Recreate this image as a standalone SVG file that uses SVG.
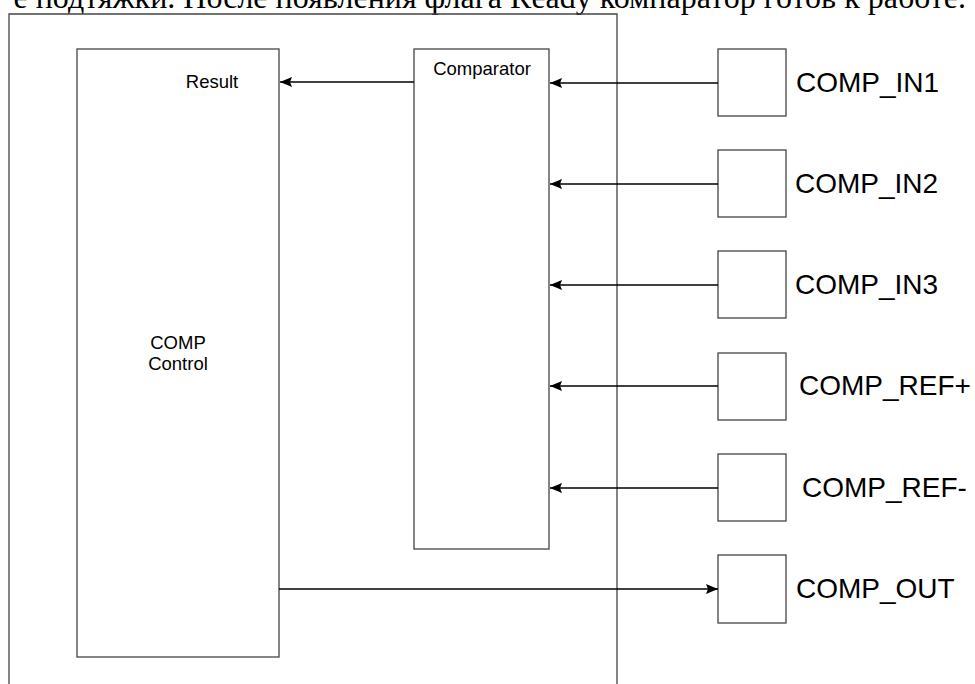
<svg xmlns="http://www.w3.org/2000/svg" width="975" height="684" viewBox="0 0 975 684">
<defs>
<marker id="ah" viewBox="0 0 12 10" refX="12" refY="5" markerWidth="12" markerHeight="10" markerUnits="userSpaceOnUse" orient="auto">
<path d="M0,0 L12,5 L0,10 L2,5 z" fill="#000"/>
</marker>
<style>
.box{fill:#fff;stroke:#444;stroke-width:1.3}
.arr{stroke:#000;stroke-width:1.7;fill:none;marker-end:url(#ah)}
.sm{font-family:"Liberation Sans",Arial,sans-serif;font-size:18.5px;fill:#000;text-anchor:middle}
.lb{font-family:"Liberation Sans",Arial,sans-serif;font-size:28px;fill:#000}
.top{font-family:"Liberation Serif","Times New Roman",serif;font-size:32px;fill:#000;text-anchor:end}
</style>
</defs>
<rect width="975" height="684" fill="#fff"/>
<text class="top" x="966" y="8">е подтяжки. После появления флага Ready компаратор готов к работе.</text>
<g id="outer"><path class="box" style="fill:none" d="M9,690 V14 H617 V690"/></g>
<g id="control"><rect class="box" x="77" y="49" width="202" height="608"/>
<text class="sm" x="212" y="88">Result</text>
<text class="sm" x="178" y="349">COMP</text>
<text class="sm" x="178" y="370">Control</text></g>
<g id="comparator"><rect class="box" x="414" y="49" width="135" height="500"/>
<text class="sm" x="482" y="75">Comparator</text></g>
<g id="in1"><rect class="box" x="718" y="49" width="68" height="67"/><text class="lb" x="796" y="92">COMP_IN1</text></g>
<g id="in2"><rect class="box" x="718" y="150" width="68" height="67"/><text class="lb" x="795" y="193">COMP_IN2</text></g>
<g id="in3"><rect class="box" x="718" y="251" width="68" height="67"/><text class="lb" x="795" y="294">COMP_IN3</text></g>
<g id="refp"><rect class="box" x="718" y="353" width="68" height="67"/><text class="lb" x="799" y="395">COMP_REF+</text></g>
<g id="refm"><rect class="box" x="718" y="454" width="68" height="67"/><text class="lb" x="802" y="497">COMP_REF-</text></g>
<g id="out"><rect class="box" x="718" y="555" width="68" height="68"/><text class="lb" x="796" y="598">COMP_OUT</text></g>
<g id="connectors">
<path class="arr" d="M414,82 H280"/>
<path class="arr" d="M718,83 H550"/>
<path class="arr" d="M718,184 H550"/>
<path class="arr" d="M718,285 H550"/>
<path class="arr" d="M718,386 H550"/>
<path class="arr" d="M718,488 H550"/>
<path class="arr" d="M279,589 H718"/>
</g>
</svg>
